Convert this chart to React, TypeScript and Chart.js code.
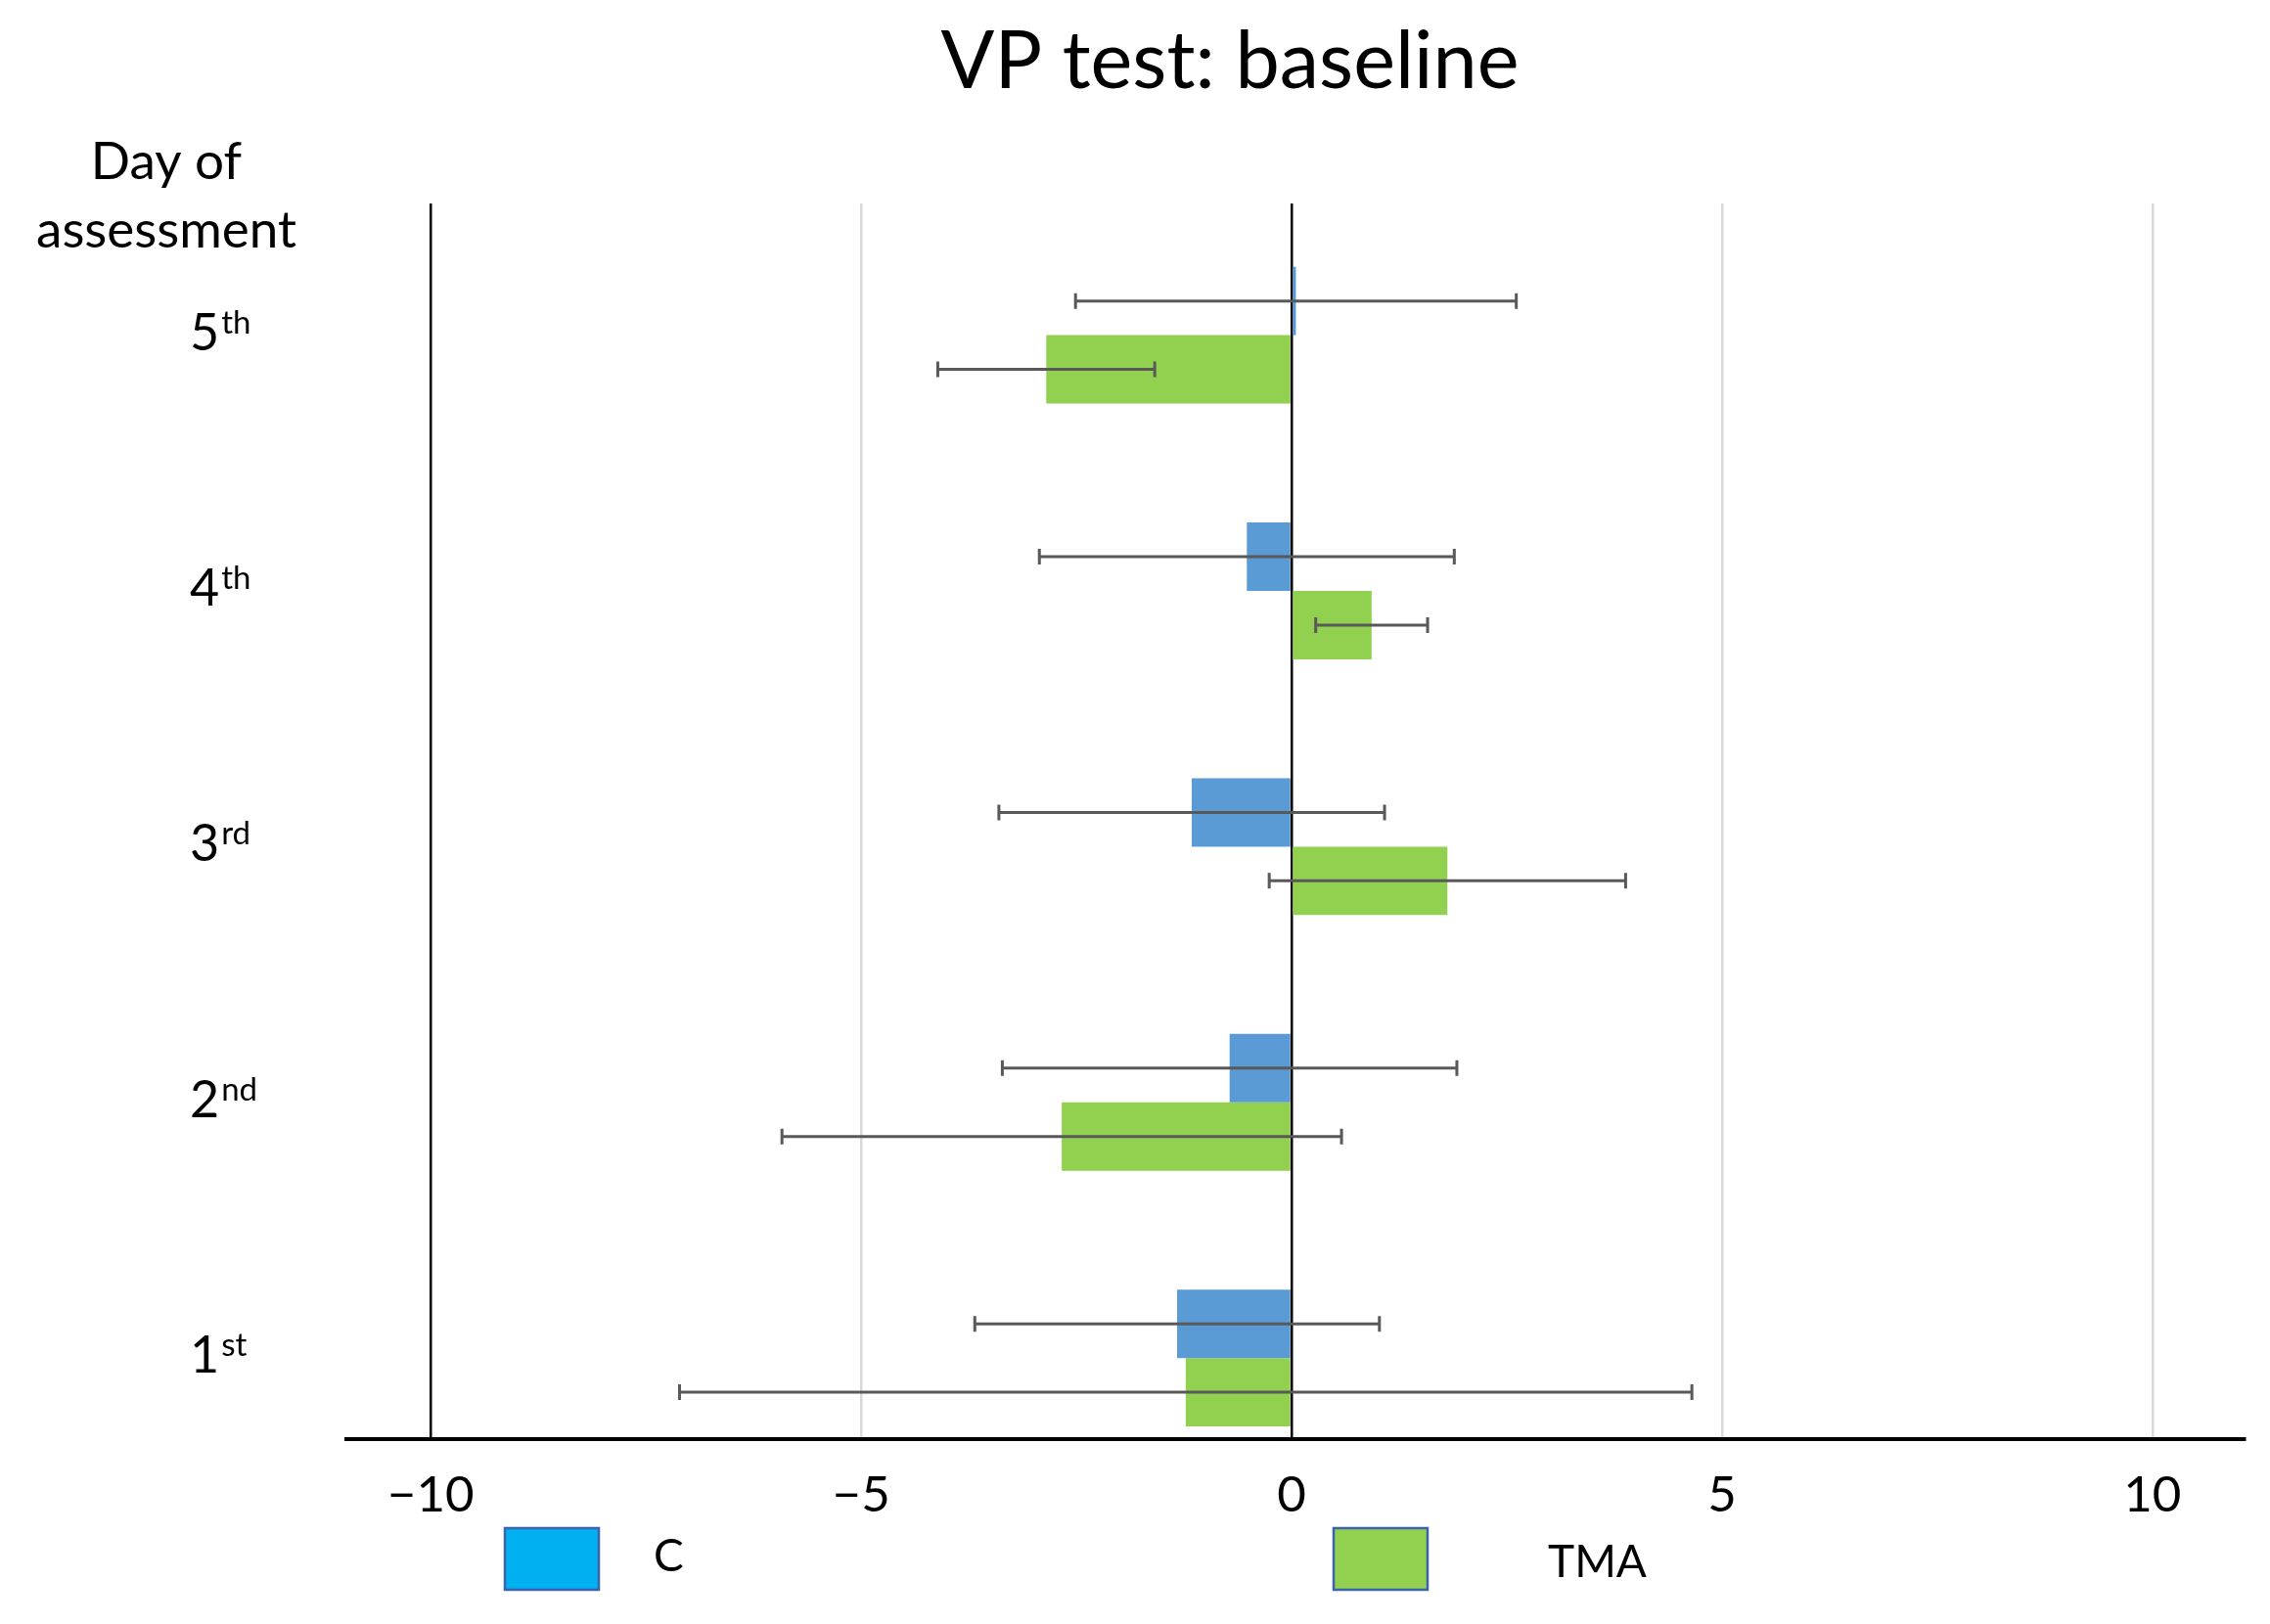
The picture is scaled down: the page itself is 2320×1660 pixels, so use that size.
import React, { useEffect, useRef } from 'react';
import { Chart, registerables } from 'chart.js';

Chart.register(...registerables);

// ---- data ----
const dayPositions = [1, 2, 3, 4, 5];
const dayNumbers = ['1', '2', '3', '4', '5'];
const daySuffixes = ['st', 'nd', 'rd', 'th', 'th'];
const seriesNames = ['C', 'TMA'];
const cValues = [-1.33, -0.72, -1.16, -0.52, 0.05];
const cErrors = [2.35, 2.64, 2.24, 2.41, 2.56];
const tmaValues = [-1.23, -2.67, 1.81, 0.93, -2.85];
const tmaErrors = [5.88, 3.25, 2.07, 0.65, 1.26];
const xTicks = [-10, -5, 0, 5, 10];
const chartTitle = 'VP test: baseline';
const yTitleLines = ['Day of', 'assessment'];

const FONT = 'Lato, "Open Sans", sans-serif';

const errorBarPlugin = {
  id: 'errorBars',
  afterDatasetsDraw(chart: any) {
    const ctx = chart.ctx;
    const xScale = chart.scales.x;
    ctx.save();
    ctx.strokeStyle = '#595959';
    ctx.lineWidth = 3;
    chart.data.datasets.forEach((ds: any, di: number) => {
      const meta = chart.getDatasetMeta(di);
      meta.data.forEach((el: any, i: number) => {
        const v = ds.data[i].x;
        const e = ds.errors[i];
        const x1 = xScale.getPixelForValue(v - e);
        const x2 = xScale.getPixelForValue(v + e);
        const y = el.y;
        const cap = 8;
        ctx.beginPath();
        ctx.moveTo(x1, y);
        ctx.lineTo(x2, y);
        ctx.moveTo(x1, y - cap);
        ctx.lineTo(x1, y + cap);
        ctx.moveTo(x2, y - cap);
        ctx.lineTo(x2, y + cap);
        ctx.stroke();
      });
    });
    ctx.restore();
  },
};

const textPlugin = {
  id: 'texts',
  afterDraw(chart: any) {
    const ctx = chart.ctx;
    const yScale = chart.scales.y;
    ctx.save();
    ctx.fillStyle = '#000';
    // Title
    ctx.font = `81px ${FONT}`;
    ctx.textAlign = 'center';
    ctx.textBaseline = 'alphabetic';
    ctx.fillText(chartTitle, 1257, 90);
    // Y axis title
    ctx.font = `53px ${FONT}`;
    ctx.fillText(yTitleLines[0], 170, 183);
    ctx.fillText(yTitleLines[1], 170, 253);
    // Category labels with superscripts
    ctx.textAlign = 'left';
    dayPositions.forEach((p, i) => {
      const cy = yScale.getPixelForValue(p);
      ctx.font = `52px ${FONT}`;
      const x0 = 194;
      ctx.fillText(dayNumbers[i], x0, cy + 15);
      const w = ctx.measureText(dayNumbers[i]).width;
      ctx.font = `33px ${FONT}`;
      ctx.fillText(daySuffixes[i], x0 + w + 2, cy - 2);
    });
    // Legend
    const legendItems = [
      { box: 516, text: 668, baseline: 1606, fill: '#00B0F0' },
      { box: 1363, text: 1582, baseline: 1612, fill: '#92D050' },
    ];
    legendItems.forEach((it, i) => {
      ctx.fillStyle = it.fill;
      ctx.fillRect(it.box, 1562, 96, 63);
      ctx.strokeStyle = '#3B64AD';
      ctx.lineWidth = 2.5;
      ctx.strokeRect(it.box, 1562, 96, 63);
      ctx.fillStyle = '#000';
      ctx.font = `46px ${FONT}`;
      ctx.fillText(seriesNames[i], it.text, it.baseline);
    });
    ctx.restore();
  },
};

export default function App() {
  const ref = useRef<HTMLCanvasElement>(null);
  useEffect(() => {
    if (!ref.current) return;
    Chart.defaults.font.family = FONT;
    const chart = new Chart(ref.current, {
      type: 'bar',
      data: {
        datasets: [
          {
            label: seriesNames[0],
            data: dayPositions.map((y, i) => ({ x: cValues[i], y })),
            backgroundColor: '#5B9BD5',
            errors: cErrors,
            categoryPercentage: 0.535,
            barPercentage: 1,
          } as any,
          {
            label: seriesNames[1],
            data: dayPositions.map((y, i) => ({ x: tmaValues[i], y })),
            backgroundColor: '#92D050',
            errors: tmaErrors,
            categoryPercentage: 0.535,
            barPercentage: 1,
          } as any,
        ],
      },
      options: {
        indexAxis: 'y',
        responsive: false,
        animation: false,
        devicePixelRatio: 1,
        layout: { padding: { left: 354, right: 26, top: 208, bottom: 0 } },
        scales: {
          x: {
            type: 'linear',
            min: -10.98,
            max: 11.07,
            afterBuildTicks: (s: any) => {
              s.ticks = xTicks.map((v) => ({ value: v }));
            },
            afterFit: (s: any) => {
              s.height = 189;
            },
            grid: {
              color: (c: any) =>
                c.tick && (c.tick.value === 0 || c.tick.value === -10) ? '#000000' : '#D9D9D9',
              lineWidth: 2.5,
              drawTicks: false,
            },
            border: { display: true, color: '#000', width: 4 },
            ticks: {
              color: '#000',
              padding: 27,
              font: { size: 51, family: FONT },
              callback: (v: any) => (v < 0 ? '\u2212' + Math.abs(v) : String(v)),
            },
          },
          y: {
            type: 'linear',
            min: 0.683,
            max: 5.515,
            display: false,
            offset: false,
            afterBuildTicks: (s: any) => {
              s.ticks = dayPositions.map((v) => ({ value: v }));
            },
            grid: { display: false, offset: false },
          },
        },
        plugins: {
          legend: { display: false },
          title: { display: false },
          tooltip: { enabled: false },
        },
      } as any,
      plugins: [errorBarPlugin, textPlugin],
    });
    return () => chart.destroy();
  }, []);
  return (
    <div style={{ position: 'fixed', left: 0, top: 0, width: 2320, height: 1660, background: '#fff' }}>
      <canvas ref={ref} width={2320} height={1660} style={{ width: 2320, height: 1660, display: 'block' }} />
    </div>
  );
}
